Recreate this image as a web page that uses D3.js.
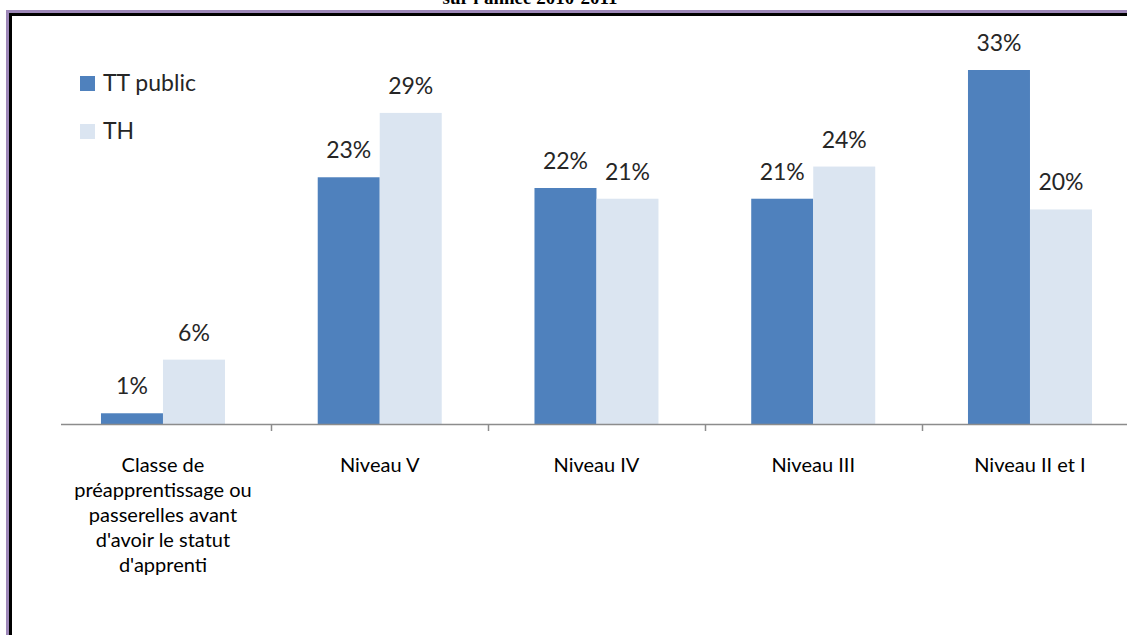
<!DOCTYPE html>
<html>
<head>
  <meta charset="UTF-8">
  <title>TT public / TH par niveau</title>
  <script src="https://d3js.org/d3.v7.min.js"></script>
  <style>
    body { margin: 0; background: #fff; }
    text { font-family: Lato, "Open Sans", sans-serif; }
  </style>
</head>
<body>
  <svg id="chart" width="1127" height="635"></svg>

  <script>
    // data
    const categories = [
      "Classe de|préapprentissage ou|passerelles avant|d'avoir le statut|d'apprenti",
      "Niveau V",
      "Niveau IV",
      "Niveau III",
      "Niveau II et I"
    ];
    const seriesNames = ["TT public", "TH"];
    const ttPublic = [1, 23, 22, 21, 33];
    const th = [6, 29, 21, 24, 20];
    const colors = ["#4f81bd", "#dbe5f1"];

    const svg = d3.select("#chart");

    // title, cut off at the top of the picture
    svg.append("text")
       .attr("x", 530).attr("y", 4)
       .attr("text-anchor", "middle")
       .style("font-family", "'Liberation Serif', 'DejaVu Serif', serif")
       .style("font-weight", "bold")
       .style("font-size", "19px")
       .text("sur l'année 2010-2011");

    // frame
    svg.append("path").attr("d", "M7.5,640 V11.5 H1140")
       .attr("fill", "none").attr("stroke", "#9d87b8").attr("stroke-width", 3);
    svg.append("path").attr("d", "M10.5,640 V14.5 H1140")
       .attr("fill", "none").attr("stroke", "#000").attr("stroke-width", 3);

    const catW = 216.75;
    const x0 = d3.scaleBand().domain(d3.range(categories.length))
                 .range([54.6, 54.6 + categories.length * catW]);
    const x1 = d3.scaleBand().domain([0, 1])
                 .range([x0.bandwidth() / 2 - 62, x0.bandwidth() / 2 + 62]);
    const y = d3.scaleLinear().domain([0, 33]).range([424, 70]);

    const rows = categories.map((c, i) => ({ i: i, vals: [ttPublic[i], th[i]] }));

    const groups = svg.selectAll("g.cat").data(rows)
                      .join("g").attr("class", "cat")
                      .attr("transform", d => `translate(${x0(d.i)},0)`);

    groups.selectAll("rect").data(d => d.vals)
          .join("rect")
          .attr("x", (v, j) => x1(j))
          .attr("width", x1.bandwidth())
          .attr("y", v => y(v))
          .attr("height", v => y(0) - y(v))
          .attr("fill", (v, j) => colors[j]);

    groups.selectAll("text.val").data(d => d.vals)
          .join("text").attr("class", "val")
          .attr("x", (v, j) => x1(j) + x1.bandwidth() / 2)
          .attr("y", v => y(v) - 19)
          .attr("text-anchor", "middle")
          .attr("fill", "#262626")
          .style("font-size", "23px")
          .text(v => v + "%");

    // axis line and ticks
    const axis = svg.append("g");
    axis.append("line").attr("x1", 61).attr("x2", 1127)
        .attr("y1", 424.5).attr("y2", 424.5)
        .attr("stroke", "#8c8c8c").attr("stroke-width", 1.5);
    axis.selectAll("line.tick").data(d3.range(1, categories.length))
        .join("line").attr("class", "tick")
        .attr("x1", i => Math.round(x0(i)) + 0.5).attr("x2", i => Math.round(x0(i)) + 0.5)
        .attr("y1", 424).attr("y2", 431)
        .attr("stroke", "#8c8c8c").attr("stroke-width", 1.5);

    // category labels
    const catText = svg.selectAll("text.cat").data(categories)
                       .join("text").attr("class", "cat")
                       .attr("text-anchor", "middle")
                       .attr("fill", "#000")
                       .style("font-size", "20px");
    catText.each(function (c, i) {
      const lines = c.split("|");
      d3.select(this).selectAll("tspan").data(lines).join("tspan")
        .attr("x", x0(i) + x0.bandwidth() / 2)
        .attr("y", (l, k) => 472 + k * 25)
        .text(l => l);
    });

    // legend
    const legend = svg.selectAll("g.legend").data(seriesNames)
                      .join("g").attr("class", "legend")
                      .attr("transform", (d, i) => `translate(80,${76 + i * 48})`);
    legend.append("rect").attr("width", 15).attr("height", 15)
          .attr("fill", (d, i) => colors[i]);
    legend.append("text").attr("x", 23).attr("y", 15)
          .attr("fill", "#262626")
          .style("font-size", "23px")
          .text(d => d);
  </script>
</body>
</html>
